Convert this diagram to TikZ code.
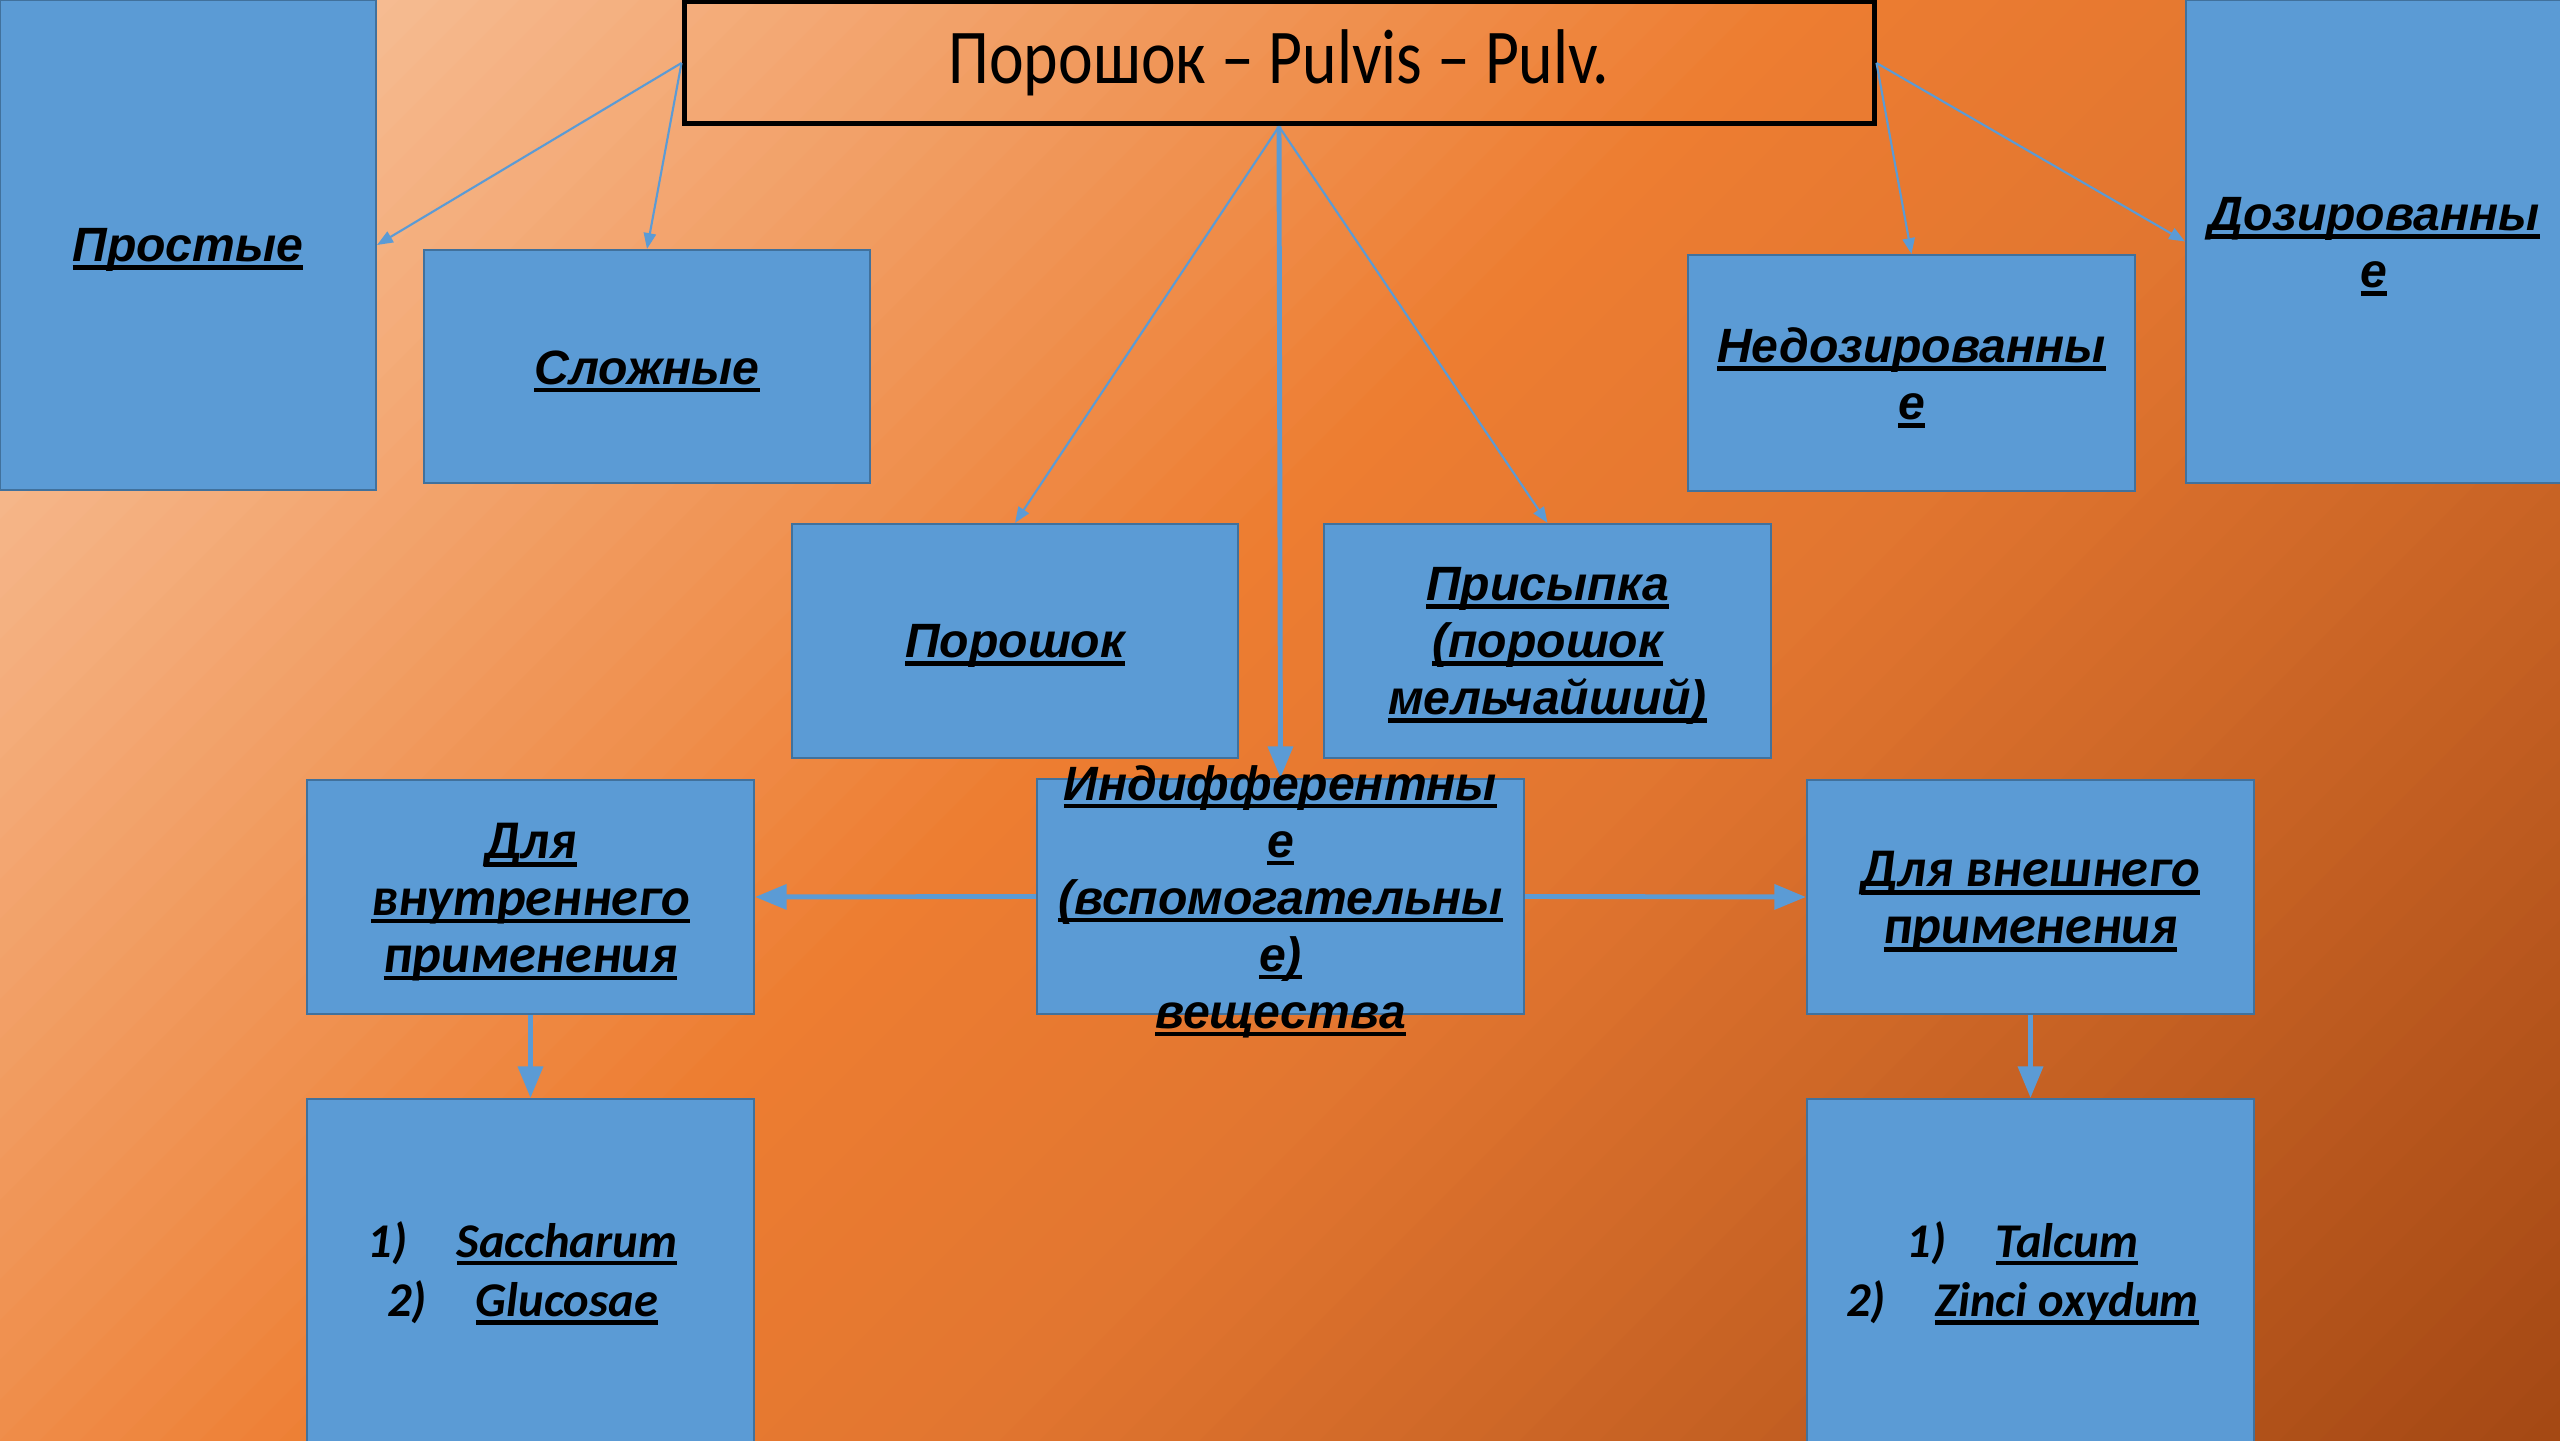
\documentclass[tikz,border=0pt]{standalone}
\usepackage{fontspec}
\setmainfont{Liberation Sans}
\newfontfamily\arialf{Liberation Sans}
\newfontfamily\calf{Carlito}
\usetikzlibrary{arrows.meta}
\definecolor{boxfill}{RGB}{91,155,213}
\definecolor{boxline}{RGB}{65,113,156}
\definecolor{arrowc}{RGB}{91,155,213}
\definecolor{g0}{RGB}{248,204,171}
\definecolor{g1}{RGB}{237,125,49}
\definecolor{g2}{RGB}{226,118,48}
\definecolor{g3}{RGB}{164,72,20}
\newcommand\ulx[1]{\setbox0\hbox{#1}\rlap{\rule[-2.3pt]{\wd0}{1.3pt}}\box0}
\begin{document}
\begin{tikzpicture}[x=1cm,y=1cm,
  box/.style={draw=boxline, fill=boxfill, line width=0.6pt, inner sep=0pt},
  arf/.style={align=center, text=black, inner sep=0pt, yshift=-0.05cm, font=\arialf\bfseries\itshape\fontsize{13.7}{16.2}\selectfont},
  caf/.style={align=center, text=black, inner sep=0pt, yshift=-0.05cm, font=\calf\bfseries\itshape\fontsize{15.5}{16.2}\selectfont},
  cal/.style={align=center, text=black, inner sep=0pt, yshift=-0.01cm, xshift=-0.08cm, font=\calf\bfseries\itshape\fontsize{13.8}{16.8}\selectfont},
  thinar/.style={draw=arrowc, line width=0.6pt, -{Triangle[length=4.5pt,width=3.5pt]}},
  thickar/.style={draw=arrowc, line width=1.4pt, -{Triangle[length=9pt,width=7pt]}}]
\useasboundingbox (0,0) rectangle (25.6,14.4);
% background gradient
\begin{scope}
\clip (0,0) rectangle (25.6,14.4);
\foreach \i in {0,...,99} {
  \pgfmathsetmacro\tv{(\i+0.5)/100}
  \pgfmathtruncatemacro\seg{\tv<0.45 ? 0 : (\tv<0.6 ? 1 : 2)}
  \ifcase\seg
    \pgfmathsetmacro\pp{\tv/0.45*100}\colorlet{sc}{g1!\pp!g0}
  \or
    \pgfmathsetmacro\pp{(\tv-0.45)/0.15*100}\colorlet{sc}{g2!\pp!g1}
  \or
    \pgfmathsetmacro\pp{(\tv-0.6)/0.4*100}\colorlet{sc}{g3!\pp!g2}
  \fi
  \pgfmathsetmacro\cA{40*\i/100-14.4}
  \pgfmathsetmacro\cB{40*(\i+1)/100-14.4+0.03}
  \fill[sc] (\cA-1,-1) -- (\cA+16,16) -- (\cB+16,16) -- (\cB-1,-1) -- cycle;
}
\end{scope}
% title
\node[draw=black, line width=0.05cm, minimum width=11.9cm, minimum height=1.22cm, inner sep=0pt,
  font=\calf\fontsize{18.7}{22}\selectfont] (title) at (12.79,13.77) {\scalebox{1}[1.18]{Порошок – Pulvis – Pulv.}};
% boxes
\node[box, minimum width=3.76cm, minimum height=4.90cm] (prost) at (1.88,11.95) {};
\node[box, minimum width=4.46cm, minimum height=2.33cm] (slozh) at (6.47,10.735) {};
\node[box, minimum width=4.47cm, minimum height=2.36cm] (nedoz) at (19.115,10.67) {};
\node[box, minimum width=3.76cm, minimum height=4.83cm] (doz) at (23.74,11.985) {};
\node[box, minimum width=4.46cm, minimum height=2.34cm] (poroshok) at (10.15,7.99) {};
\node[box, minimum width=4.47cm, minimum height=2.34cm] (prisyp) at (15.475,7.99) {};
\node[box, minimum width=4.87cm, minimum height=2.35cm] (ind) at (12.805,5.435) {};
\node[box, minimum width=4.47cm, minimum height=2.34cm] (vnutr) at (5.305,5.43) {};
\node[box, minimum width=4.47cm, minimum height=2.34cm] (vnesh) at (20.305,5.43) {};
\node[box, minimum width=4.47cm, minimum height=3.46cm] (bl) at (5.305,1.68) {};
\node[box, minimum width=4.47cm, minimum height=3.46cm] (br) at (20.305,1.68) {};
% connectors
\draw[thinar] (title.west) -- (prost.east);
\draw[thinar] (title.west) -- (slozh.north);
\draw[thinar] (title.south) -- (poroshok.north);
\draw[thinar] (title.south) -- (prisyp.north);
\draw[thickar] (title.south) -- (ind.north);
\draw[thinar] (title.east) -- (nedoz.north);
\draw[thinar] (title.east) -- (doz.west);
\draw[thickar] (ind.west) -- (vnutr.east);
\draw[thickar] (ind.east) -- (vnesh.west);
\draw[thickar] (vnutr.south) -- (bl.north);
\draw[thickar] (vnesh.south) -- (br.north);
% box texts
\node[arf] (prostT) at (prost.center) {\ulx{Простые}};
\node[arf] (slozhT) at (slozh.center) {\ulx{Сложные}};
\node[arf] (nedozT) at (nedoz.center) {\ulx{Недозированны}\\\ulx{е}};
\node[arf] (dozT) at (doz.center) {\ulx{Дозированны}\\\ulx{е}};
\node[arf] (poroshokT) at (poroshok.center) {\ulx{Порошок}};
\node[arf] (prisypT) at (prisyp.center) {\ulx{Присыпка}\\\ulx{(порошок}\\\ulx{мельчайший)}};
\node[arf] (indT) at (ind.center) {\ulx{Индифферентны}\\\ulx{е}\\\ulx{(вспомогательны}\\\ulx{е)}\\\ulx{вещества}};
\node[caf] (vnutrT) at (vnutr.center) {\ulx{Для}\\\ulx{внутреннего}\\\ulx{применения}};
\node[caf] (vneshT) at (vnesh.center) {\ulx{Для внешнего}\\\ulx{применения}};
\node[cal] (blT) at (bl.center) {1)\hspace{14pt}\ulx{Saccharum}\\2)\hspace{14pt}\ulx{Glucosae}};
\node[cal] (brT) at (br.center) {1)\hspace{14pt}\ulx{Talcum}\\2)\hspace{14pt}\ulx{Zinci oxydum}};
\end{tikzpicture}
\end{document}
